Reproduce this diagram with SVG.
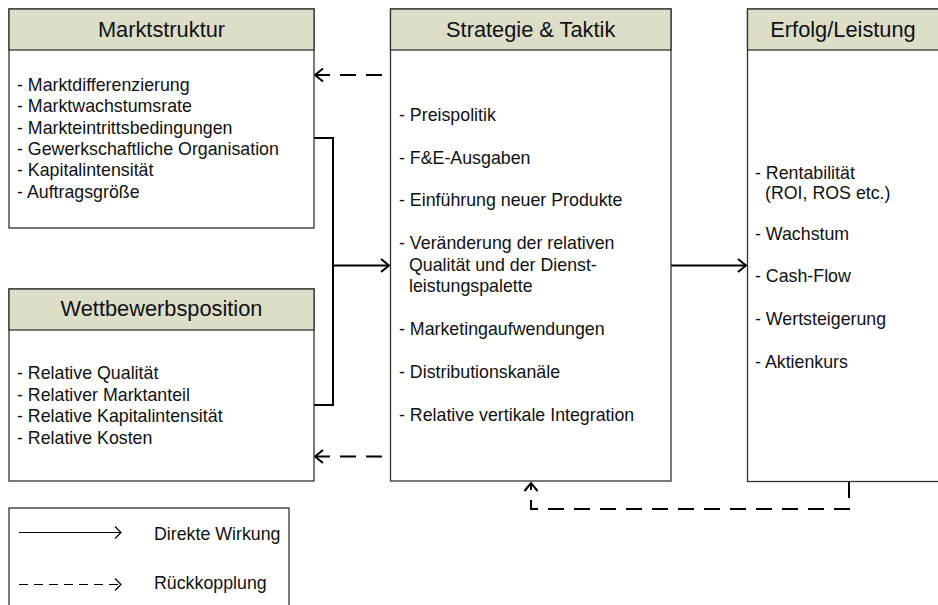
<svg xmlns="http://www.w3.org/2000/svg" width="938" height="605" viewBox="0 0 938 605">
  <style>
    .frame { fill: #ffffff; stroke: #333333; stroke-width: 1.3; }
    .head { fill: #dcdec8; stroke: #333333; stroke-width: 1.3; }
    .title { font-family: "Liberation Sans", Arial, sans-serif; font-size: 21.8px; fill: #111111; text-anchor: middle; }
    .item { font-family: "Liberation Sans", Arial, sans-serif; font-size: 17.8px; fill: #111111; }
    .direct { fill: none; stroke: #000000; stroke-width: 2; }
    .feedback { fill: none; stroke: #000000; stroke-width: 2; stroke-dasharray: 16 10; }
    .leg-direct { fill: none; stroke: #000000; stroke-width: 1.2; }
    .leg-feedback { fill: none; stroke: #000000; stroke-width: 1.2; stroke-dasharray: 9 6; }
  </style>
  <defs>
    <marker id="arrow" markerUnits="userSpaceOnUse" viewBox="-12 -10 14 20" refX="0" refY="0" markerWidth="14" markerHeight="20" orient="auto" overflow="visible">
      <path d="M-8,-6.5 L0,0 L-8,6.5" fill="none" stroke="#000000" stroke-width="2" stroke-dasharray="none"/>
    </marker>
    <marker id="arrow-thin" markerUnits="userSpaceOnUse" viewBox="-12 -10 14 20" refX="0" refY="0" markerWidth="14" markerHeight="20" orient="auto" overflow="visible">
      <path d="M-6,-6 L0,0 L-6,6" fill="none" stroke="#000000" stroke-width="1.2" stroke-dasharray="none"/>
    </marker>
  </defs>

  <!-- Connectors -->
  <g id="connectors">
    <!-- Marktstruktur + Wettbewerbsposition -> Strategie -->
    <path class="direct" d="M314,138 H333 V405 H314"/>
    <path class="direct" d="M333,265.5 H389" marker-end="url(#arrow)"/>
    <!-- Strategie -> Erfolg -->
    <path class="direct" d="M671,265.5 H746" marker-end="url(#arrow)"/>
    <!-- Feedback from Strategie -->
    <path class="feedback" d="M382,75 H315" marker-end="url(#arrow)"/>
    <path class="feedback" d="M382,456.5 H315" marker-end="url(#arrow)"/>
    <!-- Feedback from Erfolg -->
    <path class="feedback" d="M849,482 V509 H531 V483" marker-end="url(#arrow)"/>
  </g>

  <!-- Marktstruktur -->
  <g id="marktstruktur">
    <rect class="frame" x="9" y="9" width="305" height="219"/>
    <rect class="head" x="9" y="9" width="305" height="41"/>
    <text class="title" x="161.5" y="36.5">Marktstruktur</text>
    <text class="item" x="17" y="90.7">- Marktdifferenzierung</text>
    <text class="item" x="17" y="112.1">- Marktwachstumsrate</text>
    <text class="item" x="17" y="133.5">- Markteintrittsbedingungen</text>
    <text class="item" x="17" y="154.9">- Gewerkschaftliche Organisation</text>
    <text class="item" x="17" y="176.3">- Kapitalintensität</text>
    <text class="item" x="17" y="197.7">- Auftragsgröße</text>
  </g>

  <!-- Wettbewerbsposition -->
  <g id="wettbewerbsposition">
    <rect class="frame" x="9" y="289" width="305" height="192"/>
    <rect class="head" x="9" y="289" width="305" height="41"/>
    <text class="title" x="161.5" y="316">Wettbewerbsposition</text>
    <text class="item" x="17" y="379.3">- Relative Qualität</text>
    <text class="item" x="17" y="400.7">- Relativer Marktanteil</text>
    <text class="item" x="17" y="422.1">- Relative Kapitalintensität</text>
    <text class="item" x="17" y="443.5">- Relative Kosten</text>
  </g>

  <!-- Strategie & Taktik -->
  <g id="strategie">
    <rect class="frame" x="390.5" y="9" width="280.5" height="472"/>
    <rect class="head" x="390.5" y="9" width="280.5" height="41"/>
    <text class="title" x="530.7" y="36.5">Strategie &amp; Taktik</text>
    <text class="item" x="399" y="121">- Preispolitik</text>
    <text class="item" x="399" y="163.6">- F&amp;E-Ausgaben</text>
    <text class="item" x="399" y="206.2">- Einführung neuer Produkte</text>
    <text class="item" x="399" y="249.2">- Veränderung der relativen</text>
    <text class="item" x="409" y="270.6">Qualität und der Dienst-</text>
    <text class="item" x="409" y="292">leistungspalette</text>
    <text class="item" x="399" y="335.4">- Marketingaufwendungen</text>
    <text class="item" x="399" y="378.2">- Distributionskanäle</text>
    <text class="item" x="399" y="421.3">- Relative vertikale Integration</text>
  </g>

  <!-- Erfolg/Leistung -->
  <g id="erfolg">
    <rect class="frame" x="747.5" y="9" width="205" height="472.5"/>
    <rect class="head" x="747.5" y="9" width="205" height="41"/>
    <text class="title" x="843" y="36.5">Erfolg/Leistung</text>
    <text class="item" x="755" y="178.5">- Rentabilität</text>
    <text class="item" x="765" y="198.5">(ROI, ROS etc.)</text>
    <text class="item" x="755" y="240">- Wachstum</text>
    <text class="item" x="755" y="281.5">- Cash-Flow</text>
    <text class="item" x="755" y="325">- Wertsteigerung</text>
    <text class="item" x="755" y="368.3">- Aktienkurs</text>
  </g>

  <!-- Legend -->
  <g id="legende">
    <rect class="frame" x="9" y="508" width="280" height="110"/>
    <path class="leg-direct" d="M19,532.5 H121" marker-end="url(#arrow-thin)"/>
    <text class="item" x="154" y="540">Direkte Wirkung</text>
    <path class="leg-feedback" d="M19,584.5 H121" marker-end="url(#arrow-thin)"/>
    <text class="item" x="154" y="589">Rückkopplung</text>
  </g>
</svg>
